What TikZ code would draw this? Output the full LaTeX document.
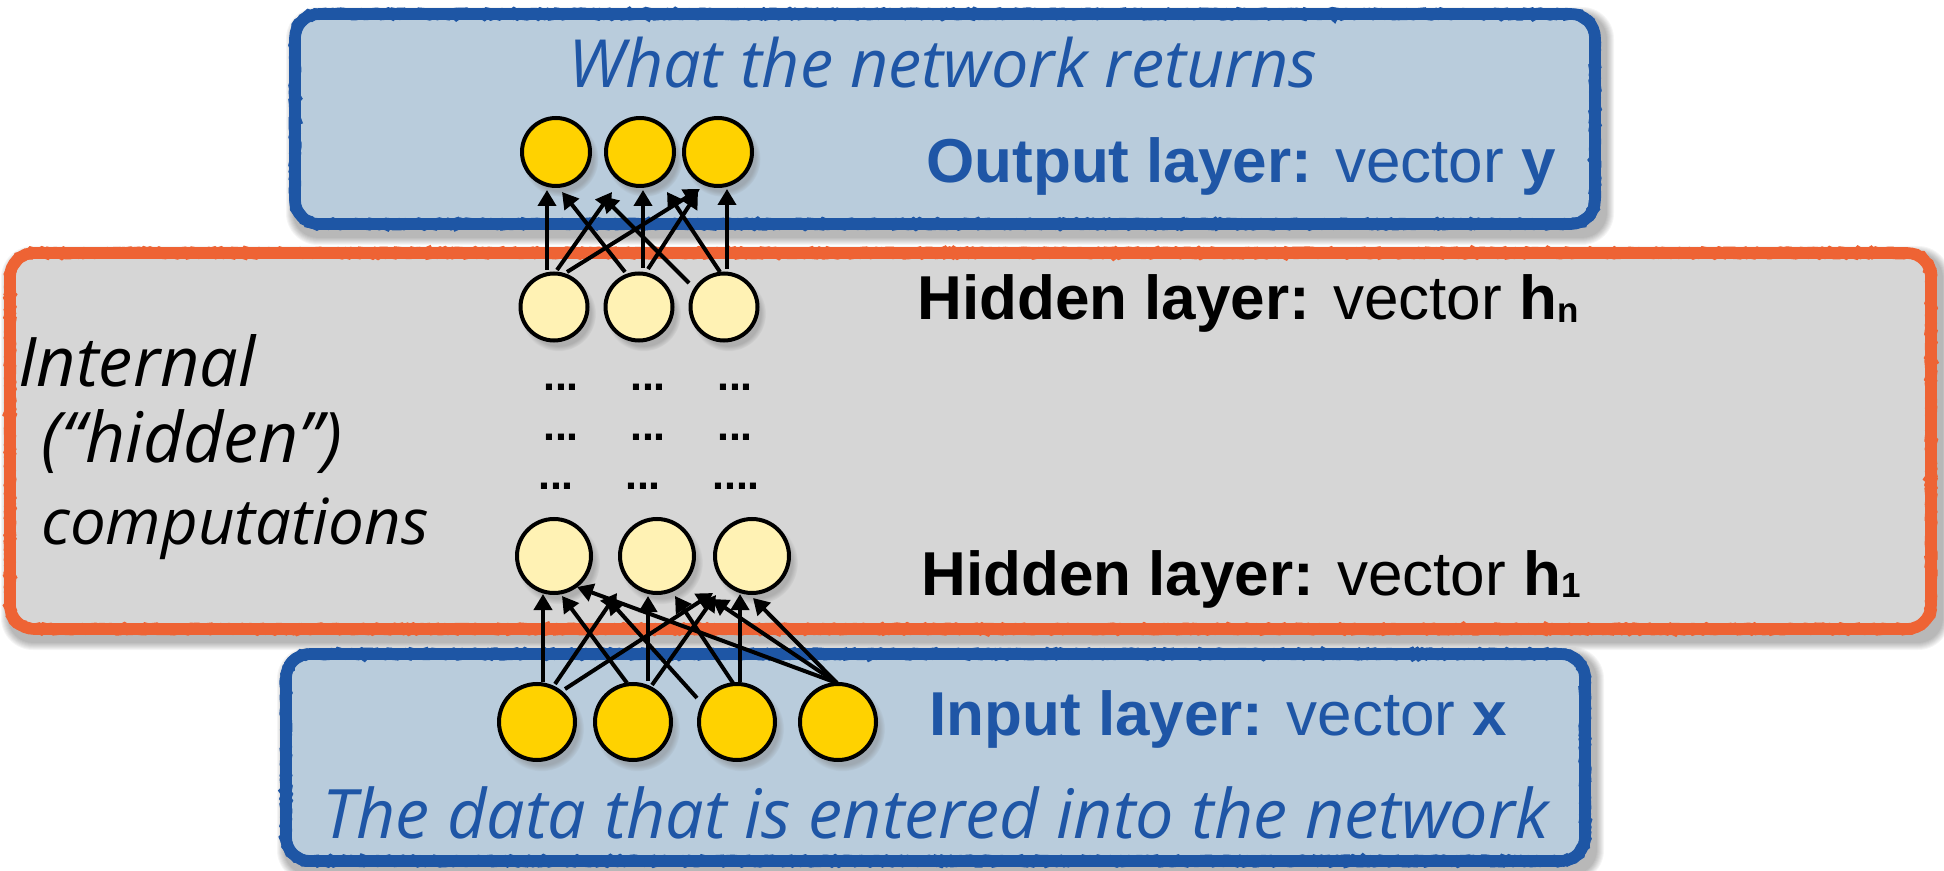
\documentclass[tikz,border=0pt]{standalone}
\usepackage{fontspec}
\newfontfamily\labelfont{Liberation Sans}
\newfontfamily\notefont{Open Sans}
\usetikzlibrary{arrows.meta,calc,shadows,decorations.pathmorphing}

\definecolor{boxblue}{HTML}{B9CCDC}
\definecolor{edgeblue}{HTML}{1E56A5}
\definecolor{edgeorange}{HTML}{EE6334}
\definecolor{boxgray}{HTML}{D6D6D6}
\definecolor{gold}{HTML}{FFD200}
\definecolor{paleyellow}{HTML}{FFF2B4}
\definecolor{inkblue}{HTML}{1F56A6}

% soft shadow under a rounded panel: x1 y1 x2 y2 (outer edge)
\newcommand\softshadow[4]{%
  \foreach \d [evaluate=\d as \r using 12+0.5*\d] in {1,...,8}{%
    \fill[black, opacity=0.04, rounded corners=\r pt]
      ({#1+5-\d},{#2+7-\d}) rectangle ({#3+5+\d},{#4+7+\d});
  }%
}

% rounded panel outline built from lines and arcs (corner radius 24)
\newcommand\panelpath[4]{({#1+24},#2) -- ({#3-24},#2)
  arc[start angle=-90, end angle=0, radius=24] -- (#3,{#4-24})
  arc[start angle=0, end angle=90, radius=24] -- ({#1+24},#4)
  arc[start angle=90, end angle=180, radius=24] -- (#1,{#2+24})
  arc[start angle=180, end angle=270, radius=24] -- cycle}

% filled panel with a crayon-like border: fill colour, edge colour, corners
\newcommand\panel[6]{%
  \fill[#1] \panelpath{#3}{#4}{#5}{#6};
  \draw[#2, line width=5.8pt] \panelpath{#3}{#4}{#5}{#6};
  \draw[#2, line width=5.4pt, rough] \panelpath{#3}{#4}{#5}{#6};
}

\tikzset{
  rough/.style={decorate, decoration={random steps, segment length=1.5pt, amplitude=0.6pt}},
  unit/.style={circle, draw=black, line width=2pt, inner sep=0pt,
    circular drop shadow={shadow xshift=2pt, shadow yshift=-3pt, opacity=0.45, shadow scale=1.12}},
  outunit/.style={unit, fill=gold, minimum size=34pt},
  topunit/.style={unit, fill=paleyellow, minimum size=33.5pt},
  lowunit/.style={unit, fill=paleyellow, minimum size=37pt},
  inunit/.style={unit, fill=gold, minimum size=38pt},
  arr/.style={line width=2pt, -{Triangle[length=8pt,width=9pt]}},
  lbl/.style={font=\labelfont\fontsize{31pt}{31pt}\selectfont, inner sep=0pt, anchor=base west},
  hand/.style={font=\notefont\itshape, inner sep=0pt, anchor=base west},
  dots/.style={font=\labelfont\bfseries\fontsize{21.5pt}{21.5pt}\selectfont, inner sep=0pt}
}

\newcommand\sub[1]{\raisebox{-1.5pt}{\fontsize{17.5pt}{17.5pt}\selectfont #1}}

\begin{document}
\begin{tikzpicture}[x=0.5pt, y=-0.5pt]
\useasboundingbox (0,0) rectangle (1944,871);

% panel shadows
\softshadow{4}{247}{1937}{635}
\softshadow{289}{8}{1601}{230}
\softshadow{280}{648}{1591}{867}

% panels
\panel{boxgray}{edgeorange}{10}{253}{1931}{629}
\panel{boxblue}{edgeblue}{295}{14}{1595}{224}
\panel{boxblue}{edgeblue}{286}{654}{1585}{861}

% output layer
\node[outunit] (o1) at (556,152) {};
\node[outunit] (o2) at (640,152) {};
\node[outunit] (o3) at (718,152) {};
% last hidden layer
\node[topunit] (n1) at (554,307) {};
\node[topunit] (n2) at (639,307) {};
\node[topunit] (n3) at (724,307) {};
% first hidden layer
\node[lowunit] (h1) at (554,556) {};
\node[lowunit] (h2) at (657,556) {};
\node[lowunit] (h3) at (752,556) {};
% input layer
\node[inunit] (x1) at (537,722) {};
\node[inunit] (x2) at (633,722) {};
\node[inunit] (x3) at (737,722) {};
\node[inunit] (x4) at (838,722) {};

% dots between the hidden layers
\node[dots] (d11) at (561,387) {...};
\node[dots] (d12) at (648,387) {...};
\node[dots] (d13) at (735,387) {...};
\node[dots] (d21) at (561,437) {...};
\node[dots] (d22) at (648,437) {...};
\node[dots] (d23) at (735,437) {...};
\node[dots] (d31) at (556,486) {...};
\node[dots] (d32) at (643,486) {...};
\node[dots] (d33) at (736,486) {....};

% last hidden layer -> output
\draw[arr] ($(n1)+(-7,-37)$) -- ($(o1)+(-9,38)$);
\draw[arr] ($(n1)+(3,-37)$) -- ($(o2)+(-28,40)$);
\draw[arr] ($(n1)+(13,-35)$) -- ($(o3)+(-18,37)$);
\draw[arr] ($(n2)+(-14,-35)$) -- ($(o1)+(6,40)$);
\draw[arr] ($(n2)+(4,-39)$) -- ($(o2)+(3,38)$);
\draw[arr] ($(n2)+(9,-38)$) -- ($(o3)+(-20,40)$);
\draw[arr] ($(n3)+(-35,-24)$) -- ($(o2)+(-38,44)$);
\draw[arr] ($(n3)+(-4,-35)$) -- ($(o2)+(27,40)$);
\draw[arr] ($(n3)+(3,-38)$) -- ($(o3)+(9,37)$);

% input -> first hidden layer
\draw[arr] ($(x1)+(6,-40)$) -- ($(h1)+(-11,38)$);
\draw[arr] ($(x1)+(18,-38)$) -- ($(h2)+(-40,37)$);
\draw[arr] ($(x1)+(28,-33)$) -- ($(h3)+(-39,37)$);
\draw[arr] ($(x2)+(-6,-39)$) -- ($(h1)+(8,40)$);
\draw[arr] ($(x2)+(15,-41)$) -- ($(h2)+(-9,40)$);
\draw[arr] ($(x2)+(19,-37)$) -- ($(h3)+(-36,39)$);
\draw[arr] ($(x3)+(-40,-24)$) -- ($(h1)+(53,42)$);
\draw[arr] ($(x3)+(-4,-39)$) -- ($(h2)+(18,40)$);
\draw[arr] ($(x3)+(3,-40)$) -- ($(h3)+(-12,38)$);
\draw[arr] ($(x4)+(-1,-39)$) -- ($(h1)+(23,31)$);
\draw[arr] ($(x4)+(-1,-39)$) -- ($(h2)+(55,43)$);
\draw[arr] ($(x4)+(-1,-39)$) -- ($(h3)+(1,42)$);

% layer labels
\node[lbl, text=inkblue] (outlbl) at (926,183)
  {\bfseries Output layer: \mdseries vector \bfseries y};
\node[lbl, text=black] (hnlbl) at (917,320)
  {\bfseries Hidden layer: \mdseries vector \bfseries h\sub{n}};
\node[lbl, text=black] (h1lbl) at (921,595)
  {\bfseries Hidden layer: \mdseries vector \bfseries h\sub{1}};
\node[lbl, text=inkblue] (inlbl) at (929,735)
  {\bfseries Input layer: \mdseries vector \bfseries x};

% handwritten notes
\node[hand, text=inkblue] (retnote) at (568,88)
  {\resizebox{374.5pt}{!}{What the network returns}};
\node[hand, text=inkblue] (datanote) at (322,838)
  {\resizebox{613pt}{!}{The data that is entered into the network}};
\node[hand, text=black] (int1) at (18,387)
  {\resizebox{118.5pt}{!}{Internal}};
\node[hand, text=black] (int2) at (41,463)
  {\resizebox{150.5pt}{!}{(“hidden”)}};
\node[hand, text=black] (int3) at (41,545)
  {\resizebox{193.5pt}{!}{computations}};
\end{tikzpicture}
\end{document}
